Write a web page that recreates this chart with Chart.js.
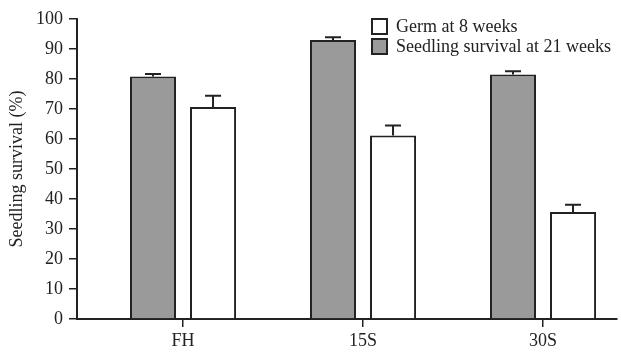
<!DOCTYPE html>
<html>
<head>
<meta charset="utf-8">
<script src="https://cdn.jsdelivr.net/npm/chart.js@4"></script>
<style>
  html, body { margin: 0; padding: 0; background: #fff; }
  #wrap { width: 621px; height: 353px; }
</style>
</head>
<body>
<div id="wrap"><canvas id="grafica" width="621" height="353"></canvas></div>
<script>
// Datos
const categorias = ['FH', '15S', '30S'];
const supervivencia21 = [80.8, 93.0, 81.5];   // barras grises
const errSupervivencia21 = [0.9, 0.9, 1.1];
const germ8 = [70.7, 61.2, 35.7];             // barras blancas
const errGerm8 = [3.7, 3.3, 2.4];
const ticksY = [0, 10, 20, 30, 40, 50, 60, 70, 80, 90, 100];

const fuente = 'Liberation Serif, Times New Roman, serif';
const gris = '#9a9a9a';
const negro = '#222';

// Barras de error (solo hacia arriba)
const errorBars = {
    id: 'errorBars',
    afterDatasetsDraw(chart) {
        const ctx = chart.ctx;
        const y = chart.scales.y;
        ctx.save();
        ctx.strokeStyle = negro;
        ctx.lineWidth = 2;
        chart.data.datasets.forEach((ds, i) => {
            const meta = chart.getDatasetMeta(i);
            meta.data.forEach((bar, j) => {
                const top = y.getPixelForValue(ds.data[j].y + ds.errores[j]);
                ctx.beginPath();
                ctx.moveTo(bar.x, bar.y);
                ctx.lineTo(bar.x, top);
                ctx.moveTo(bar.x - 8, top);
                ctx.lineTo(bar.x + 8, top);
                ctx.stroke();
            });
        });
        ctx.restore();
    }
};

// Leyenda dentro del area, en orden invertido
const leyenda = {
    id: 'leyenda',
    afterDraw(chart) {
        const ctx = chart.ctx;
        const x0 = 372, y0 = 19, lado = 15, paso = 20;
        ctx.save();
        ctx.font = '18px ' + fuente;
        ctx.textBaseline = 'middle';
        const items = chart.data.datasets.slice().reverse();
        items.forEach((ds, i) => {
            const yy = y0 + i * paso;
            ctx.fillStyle = ds.backgroundColor;
            ctx.fillRect(x0, yy, lado, lado);
            ctx.strokeStyle = negro;
            ctx.lineWidth = 2;
            ctx.strokeRect(x0, yy, lado, lado);
            ctx.fillStyle = negro;
            ctx.fillText(ds.label, x0 + 24, yy + lado / 2 + 1);
        });
        ctx.restore();
    }
};

const ctx = document.getElementById('grafica').getContext('2d');
new Chart(ctx, {
    type: 'bar',
    data: {
        datasets: [{
            label: 'Seedling survival at 21 weeks',
            data: supervivencia21.map((v, i) => ({ x: i, y: v })),
            errores: errSupervivencia21,
            backgroundColor: gris,
            borderColor: negro,
            borderWidth: 2
        }, {
            label: 'Germ at 8 weeks',
            data: germ8.map((v, i) => ({ x: i, y: v })),
            errores: errGerm8,
            backgroundColor: '#ffffff',
            borderColor: negro,
            borderWidth: 2
        }]
    },
    options: {
        responsive: false,
        animation: false,
        categoryPercentage: 0.667,
        barPercentage: 0.767,
        layout: { padding: { top: 19, right: 4, left: 0, bottom: 0 } },
        plugins: {
            legend: { display: false },
            tooltip: { enabled: false }
        },
        scales: {
            x: {
                type: 'linear',
                offset: false,
                min: -0.589,
                max: 2.411,
                afterBuildTicks: (scale) => {
                    scale.ticks = categorias.map((c, i) => ({ value: i }));
                },
                afterFit: (scale) => { scale.height = 34; },
                grid: { offset: false, drawOnChartArea: false, drawTicks: true, tickLength: 8, color: negro, lineWidth: 1.5 },
                border: { color: negro, width: 2 },
                ticks: {
                    color: negro,
                    font: { family: fuente, size: 18 },
                    padding: 3,
                    callback: (v) => categorias[v]
                }
            },
            y: {
                min: 0,
                max: 100,
                afterBuildTicks: (scale) => {
                    scale.ticks = ticksY.map(v => ({ value: v }));
                },
                afterFit: (scale) => { scale.width = 77; },
                grid: { drawOnChartArea: false, drawTicks: true, tickLength: 8, color: negro, lineWidth: 1.5 },
                border: { color: negro, width: 2 },
                ticks: {
                    color: negro,
                    font: { family: fuente, size: 18 },
                    padding: 6
                },
                title: {
                    display: true,
                    text: 'Seedling survival (%)',
                    color: negro,
                    font: { family: fuente, size: 18 },
                    padding: { top: 6, bottom: 0 }
                }
            }
        }
    },
    plugins: [errorBars, leyenda]
});
</script>
</body>
</html>
